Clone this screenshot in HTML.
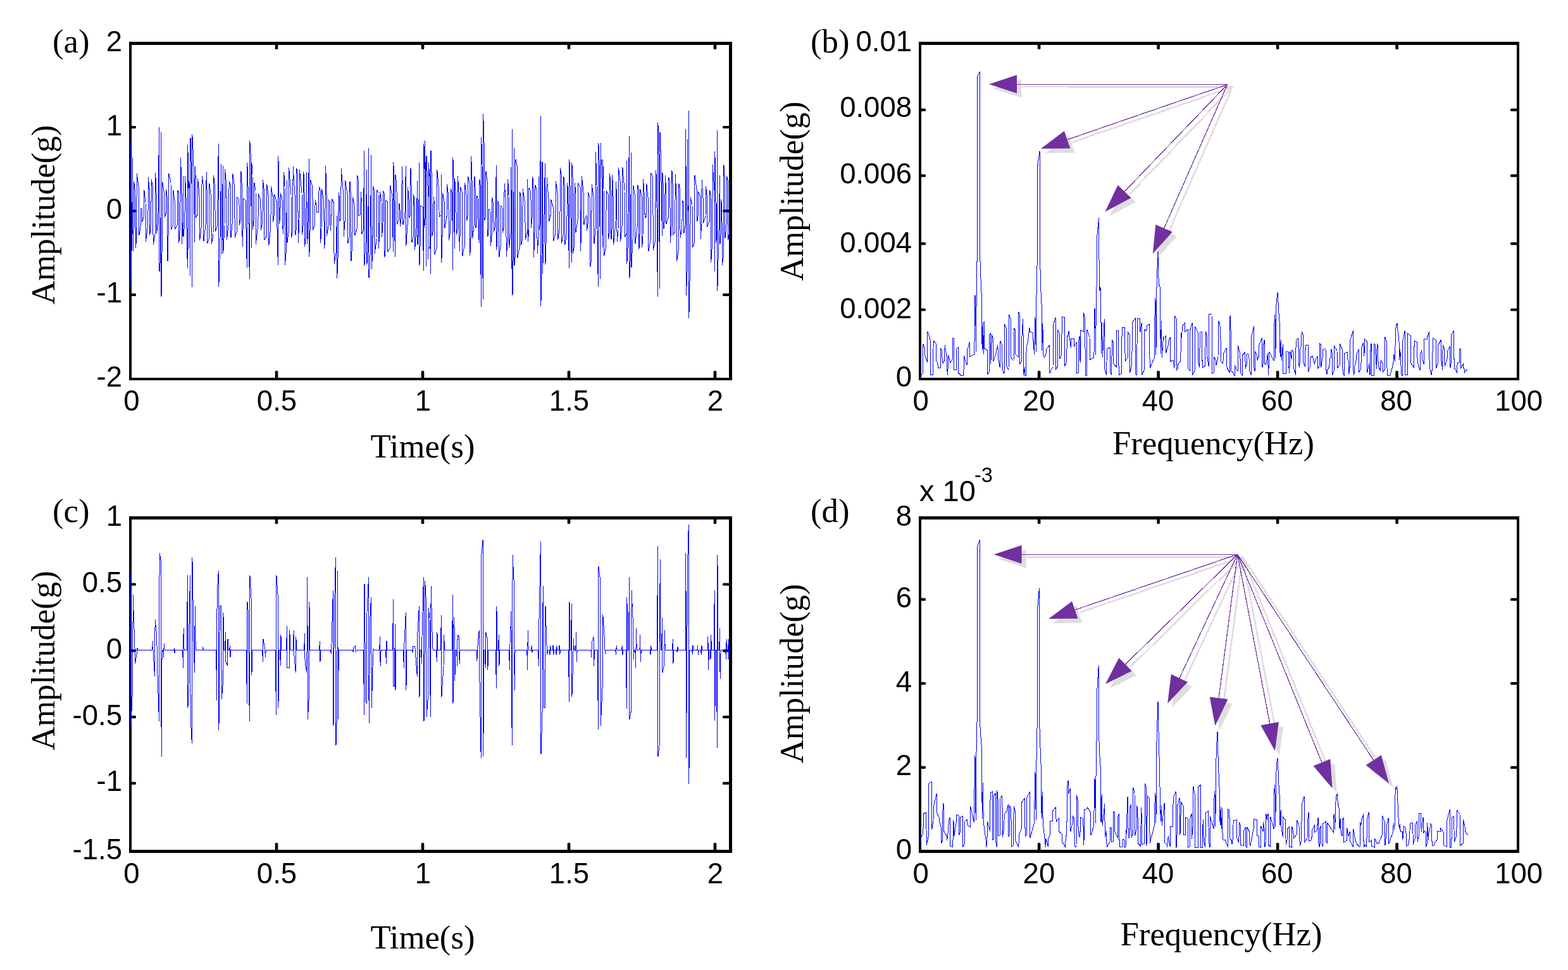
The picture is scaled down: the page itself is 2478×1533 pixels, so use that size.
<!DOCTYPE html>
<html><head><meta charset="utf-8"><title>Figure</title>
<style>html,body{margin:0;padding:0;background:#fff;}svg{display:block;}</style>
</head><body>
<svg xmlns="http://www.w3.org/2000/svg" width="2478" height="1533" viewBox="0 0 2478 1533">
<defs><pattern id="chk" width="2" height="2" patternUnits="userSpaceOnUse"><rect width="1" height="1" fill="#bdbdbd"/><rect x="1" y="1" width="1" height="1" fill="#bdbdbd"/></pattern></defs>
<rect width="2478" height="1533" fill="#fff"/>
<g fill="#000">
<rect x="204" y="66" width="4" height="535"/><rect x="1152" y="66" width="5" height="535"/><rect x="204" y="66" width="953" height="5"/><rect x="204" y="597" width="953" height="4"/>
<rect x="1452" y="66" width="4" height="535"/><rect x="2397" y="66" width="4" height="535"/><rect x="1452" y="66" width="949" height="5"/><rect x="1452" y="597" width="949" height="4"/>
<rect x="204" y="816" width="4" height="532"/><rect x="1152" y="816" width="5" height="532"/><rect x="204" y="816" width="953" height="5"/><rect x="204" y="1343" width="953" height="5"/>
<rect x="1452" y="816" width="4" height="532"/><rect x="2397" y="816" width="4" height="532"/><rect x="1452" y="816" width="949" height="5"/><rect x="1452" y="1343" width="949" height="5"/>
<rect x="434.70" y="586" width="4.6" height="12" rx="1.5"/><rect x="434.70" y="70" width="4.6" height="8" rx="1.5"/><rect x="665.70" y="586" width="4.6" height="12" rx="1.5"/><rect x="665.70" y="70" width="4.6" height="8" rx="1.5"/><rect x="896.70" y="586" width="4.6" height="12" rx="1.5"/><rect x="896.70" y="70" width="4.6" height="8" rx="1.5"/><rect x="1127.70" y="586" width="4.6" height="12" rx="1.5"/><rect x="1127.70" y="70" width="4.6" height="8" rx="1.5"/>
<rect x="434.70" y="1332" width="4.6" height="12" rx="1.5"/><rect x="434.70" y="820" width="4.6" height="8" rx="1.5"/><rect x="665.70" y="1332" width="4.6" height="12" rx="1.5"/><rect x="665.70" y="820" width="4.6" height="8" rx="1.5"/><rect x="896.70" y="1332" width="4.6" height="12" rx="1.5"/><rect x="896.70" y="820" width="4.6" height="8" rx="1.5"/><rect x="1127.70" y="1332" width="4.6" height="12" rx="1.5"/><rect x="1127.70" y="820" width="4.6" height="8" rx="1.5"/>
<rect x="1639.80" y="586" width="4.6" height="12" rx="1.5"/><rect x="1639.80" y="70" width="4.6" height="8" rx="1.5"/><rect x="1828.30" y="586" width="4.6" height="12" rx="1.5"/><rect x="1828.30" y="70" width="4.6" height="8" rx="1.5"/><rect x="2016.80" y="586" width="4.6" height="12" rx="1.5"/><rect x="2016.80" y="70" width="4.6" height="8" rx="1.5"/><rect x="2205.30" y="586" width="4.6" height="12" rx="1.5"/><rect x="2205.30" y="70" width="4.6" height="8" rx="1.5"/>
<rect x="1639.80" y="1332" width="4.6" height="12" rx="1.5"/><rect x="1639.80" y="820" width="4.6" height="8" rx="1.5"/><rect x="1828.30" y="1332" width="4.6" height="12" rx="1.5"/><rect x="1828.30" y="820" width="4.6" height="8" rx="1.5"/><rect x="2016.80" y="1332" width="4.6" height="12" rx="1.5"/><rect x="2016.80" y="820" width="4.6" height="8" rx="1.5"/><rect x="2205.30" y="1332" width="4.6" height="12" rx="1.5"/><rect x="2205.30" y="820" width="4.6" height="8" rx="1.5"/>
<rect x="207" y="198.90" width="8" height="4.2" rx="1.5"/><rect x="1142" y="198.90" width="11" height="4.2" rx="1.5"/><rect x="207" y="331.30" width="8" height="4.2" rx="1.5"/><rect x="1142" y="331.30" width="11" height="4.2" rx="1.5"/><rect x="207" y="463.70" width="8" height="4.2" rx="1.5"/><rect x="1142" y="463.70" width="11" height="4.2" rx="1.5"/>
<rect x="207" y="921.40" width="8" height="4.2" rx="1.5"/><rect x="1142" y="921.40" width="11" height="4.2" rx="1.5"/><rect x="207" y="1026.20" width="8" height="4.2" rx="1.5"/><rect x="1142" y="1026.20" width="11" height="4.2" rx="1.5"/><rect x="207" y="1131.00" width="8" height="4.2" rx="1.5"/><rect x="1142" y="1131.00" width="11" height="4.2" rx="1.5"/><rect x="207" y="1235.80" width="8" height="4.2" rx="1.5"/><rect x="1142" y="1235.80" width="11" height="4.2" rx="1.5"/>
<rect x="1455" y="487.40" width="8" height="4.2" rx="1.5"/><rect x="2387" y="487.40" width="11" height="4.2" rx="1.5"/><rect x="1455" y="383.10" width="8" height="4.2" rx="1.5"/><rect x="2387" y="383.10" width="11" height="4.2" rx="1.5"/><rect x="1455" y="275.60" width="8" height="4.2" rx="1.5"/><rect x="2387" y="275.60" width="11" height="4.2" rx="1.5"/><rect x="1455" y="171.50" width="8" height="4.2" rx="1.5"/><rect x="2387" y="171.50" width="11" height="4.2" rx="1.5"/>
<rect x="1455" y="1210.70" width="8" height="4.2" rx="1.5"/><rect x="2387" y="1210.70" width="11" height="4.2" rx="1.5"/><rect x="1455" y="1077.95" width="8" height="4.2" rx="1.5"/><rect x="2387" y="1077.95" width="11" height="4.2" rx="1.5"/><rect x="1455" y="945.20" width="8" height="4.2" rx="1.5"/><rect x="2387" y="945.20" width="11" height="4.2" rx="1.5"/>
</g>
<polyline fill="none" stroke="#0000ff" stroke-width="1" shape-rendering="crispEdges" points="206.3,222.1 206.8,450.3 208.6,370.1 209.6,249.3 210.1,397.0 211.2,356.6 211.7,286.8 213.7,305.1 214.2,391.9 215.7,378.6 216.2,274.4 219.4,296.3 219.8,372.3 222.3,356.4 222.8,329.4 224.6,330.3 225.0,350.5 227.4,341.4 227.8,299.6 230.0,320.3 230.5,381.6 233.9,354.1 234.3,280.3 236.4,302.5 236.8,371.7 238.8,345.3 239.3,283.5 241.6,297.7 242.1,387.4 245.3,368.6 245.7,273.0 247.2,309.0 247.6,368.6 249.9,346.6 251.5,201.0 252.0,429.2 253.8,405.1 254.5,209.1 255.0,468.8 256.3,380.3 256.7,287.5 259.7,306.0 260.1,343.4 262.1,337.9 262.5,298.7 264.6,313.9 265.0,413.1 266.3,360.5 266.8,273.8 270.0,289.0 270.5,363.1 273.3,356.2 273.8,300.2 276.5,320.6 277.0,362.2 280.3,355.2 280.8,301.0 282.4,304.3 282.8,384.4 284.9,350.6 285.3,248.9 286.9,282.8 287.4,385.9 289.1,350.4 289.5,278.1 290.0,373.9 291.9,352.1 292.4,277.6 293.9,306.1 296.3,423.5 296.8,229.2 298.0,297.7 298.0,394.2 298.5,286.2 300.8,302.7 300.5,436.0 301.0,217.7 303.0,290.4 303.3,453.5 303.8,212.5 305.9,253.7 307.6,383.3 308.1,262.6 309.5,284.2 309.9,343.2 312.1,339.3 312.5,281.9 315.2,310.6 315.6,380.3 318.6,355.7 319.1,278.2 321.6,294.5 322.0,381.0 325.6,350.4 326.1,272.3 327.3,309.4 327.8,384.5 330.5,376.3 331.0,289.6 333.7,311.3 334.2,385.5 337.0,372.3 337.5,277.0 339.8,297.3 340.2,366.0 343.4,357.0 345.3,227.4 345.8,453.1 348.0,375.8 349.6,258.9 350.1,401.6 351.2,375.0 352.3,262.4 352.8,399.6 355.0,357.8 355.5,266.8 357.9,293.5 358.4,378.8 361.6,351.7 362.1,286.6 364.4,292.0 364.9,376.3 367.4,349.4 367.8,274.0 370.7,296.3 371.2,375.5 374.5,365.4 374.9,312.1 377.9,314.6 378.4,355.5 380.4,346.7 380.9,269.9 382.6,299.6 383.1,389.5 384.4,351.7 384.8,314.2 388.1,316.9 390.3,422.9 390.8,256.7 392.3,304.5 394.3,441.3 394.8,221.8 396.7,254.8 397.3,391.6 397.8,256.9 399.0,275.9 399.4,362.9 401.5,345.5 402.0,288.6 404.0,301.4 404.4,386.0 407.9,354.4 408.4,306.0 411.9,317.2 412.3,363.9 414.9,349.9 415.4,284.4 417.5,301.6 418.0,379.2 421.4,372.9 421.8,291.4 424.3,310.8 424.8,387.9 427.9,357.8 428.3,293.7 431.3,311.1 431.7,350.6 433.3,338.7 433.8,307.0 437.1,318.9 439.3,419.0 439.8,247.4 440.8,281.9 441.3,354.0 442.8,344.2 443.3,304.8 446.6,318.5 447.1,370.2 448.3,352.9 448.7,271.9 450.0,294.5 450.5,418.9 452.6,392.7 453.4,285.3 453.9,383.5 456.1,367.1 456.6,265.2 460.0,307.7 460.5,376.1 462.7,363.9 463.1,263.5 466.1,309.5 466.6,372.1 468.4,361.8 468.9,265.8 470.8,279.5 471.2,384.1 473.0,349.2 473.5,267.9 477.0,305.4 477.5,371.4 479.4,353.5 479.9,271.4 481.1,306.5 481.6,389.7 483.4,373.2 484.8,271.7 485.3,386.0 486.8,368.0 488.3,251.0 488.8,406.1 490.1,361.8 490.5,283.7 493.9,295.2 494.3,363.7 497.7,355.2 498.1,315.8 500.2,324.5 500.7,335.8 503.6,335.5 504.1,295.1 506.2,300.6 506.6,384.0 508.0,362.3 508.5,297.6 511.8,319.4 512.3,392.7 513.8,380.8 514.3,261.7 515.9,289.3 516.4,372.5 519.1,357.1 519.5,316.1 521.6,319.0 522.1,364.5 523.9,347.5 524.4,314.2 527.6,320.8 528.1,416.7 531.6,397.0 532.2,341.2 532.7,439.9 534.7,389.2 535.2,303.6 536.4,312.3 536.9,349.5 538.7,346.1 539.2,266.4 542.7,306.9 543.2,373.7 545.2,348.3 545.7,284.7 549.1,308.3 549.6,385.1 552.6,373.9 553.0,287.1 554.5,311.6 554.9,413.4 556.9,385.0 557.4,310.9 560.5,326.5 561.0,372.0 564.3,359.7 564.7,277.1 566.5,285.4 566.9,340.5 569.8,339.0 570.2,303.2 571.5,319.1 572.0,369.5 574.6,361.3 575.4,238.4 575.9,420.2 578.3,378.9 579.4,267.8 579.9,418.1 581.7,388.1 582.5,233.9 583.0,439.3 584.9,414.0 586.7,244.8 587.2,426.3 588.9,398.9 589.4,294.5 591.6,301.2 592.1,401.4 595.0,379.1 595.5,300.6 598.0,304.7 598.4,392.8 599.9,367.2 600.4,303.1 603.0,319.4 603.5,374.7 605.0,354.5 605.4,301.4 607.3,306.0 607.7,407.4 609.1,395.0 609.5,316.9 612.5,318.7 613.0,398.1 616.3,391.1 616.8,293.1 620.0,311.7 621.4,398.1 621.9,255.7 622.9,309.4 624.4,406.3 624.9,276.5 626.9,289.1 627.4,354.5 630.1,349.0 630.6,321.2 631.9,324.2 632.4,357.9 634.7,340.9 635.2,262.8 636.6,301.2 637.0,355.1 639.9,342.1 641.3,261.8 641.8,389.2 644.1,353.3 644.6,296.5 646.3,318.7 646.8,344.4 648.5,339.9 649.0,265.9 650.6,309.3 651.0,382.6 653.4,373.9 653.8,307.5 655.1,324.6 655.6,395.4 658.4,355.1 659.4,285.8 659.9,387.4 661.7,363.5 662.4,256.8 662.9,419.8 664.2,383.8 664.6,324.8 668.2,327.8 669.4,428.0 669.9,227.5 671.1,269.7 671.0,359.6 671.5,221.6 672.7,299.4 673.5,421.2 674.0,246.3 676.1,294.7 676.7,410.4 677.2,257.5 679.0,278.7 679.0,392.6 679.5,274.1 680.9,294.8 680.5,433.1 681.0,237.9 682.2,279.0 682.6,374.4 684.7,363.2 685.1,311.2 686.6,323.0 687.0,402.3 690.3,390.2 690.8,268.3 693.7,301.9 694.1,342.4 697.1,339.9 697.3,275.6 697.8,415.3 699.3,362.5 699.7,305.2 702.4,320.3 702.9,360.2 706.1,342.0 706.6,291.2 708.9,311.9 709.3,380.2 711.9,364.4 712.4,297.8 714.8,306.8 715.4,426.8 715.9,249.1 717.5,297.0 718.2,392.7 718.7,281.9 720.8,312.2 721.3,370.9 723.1,362.9 723.5,278.3 725.6,314.3 726.1,396.9 727.4,363.9 727.8,295.8 730.3,303.9 730.8,404.8 734.2,386.8 734.6,288.8 737.2,309.5 737.7,349.1 739.3,340.4 739.7,279.1 742.4,290.3 742.8,403.8 744.2,372.2 744.7,247.1 746.1,287.3 746.6,377.0 749.6,352.6 750.0,278.6 751.4,302.2 751.9,360.0 753.2,354.2 753.7,309.0 755.0,313.2 757.2,384.3 757.7,282.6 759.5,295.1 760.2,484.6 760.7,217.4 762.0,260.2 763.2,473.2 763.7,180.3 765.6,245.3 766.0,348.3 767.4,342.1 767.9,270.6 770.5,289.3 770.9,373.8 772.3,360.0 772.7,331.0 775.0,332.0 775.5,388.5 777.2,370.1 777.7,312.2 779.7,323.0 780.2,366.8 782.8,357.2 784.3,260.9 784.8,395.2 786.2,362.1 786.6,316.7 788.6,327.4 789.0,405.8 791.5,385.0 791.9,325.5 794.0,326.6 794.4,367.7 796.7,356.3 797.1,289.8 799.7,320.2 800.2,406.4 802.3,378.8 802.7,283.0 804.0,309.3 804.5,391.5 807.4,365.6 807.9,263.8 808.4,424.5 810.0,366.0 809.5,204.3 810.0,466.6 811.4,391.3 812.5,234.4 813.0,419.7 814.6,399.9 815.0,251.8 817.5,264.0 817.9,407.6 821.3,389.4 821.7,303.3 823.3,311.2 823.8,387.2 825.7,377.8 826.2,298.3 829.8,321.9 830.2,379.2 833.8,365.5 833.6,283.5 834.1,381.5 835.4,370.5 835.9,296.9 838.9,302.7 839.4,359.5 841.4,341.9 841.8,279.0 843.1,299.2 843.6,406.7 845.1,364.5 845.5,291.6 848.7,302.0 849.1,400.6 851.6,367.4 851.4,278.6 851.9,363.7 853.5,352.3 854.4,183.1 854.9,483.8 856.0,405.2 857.0,256.5 857.5,433.0 859.5,369.4 861.4,258.3 861.9,418.1 863.6,368.5 864.1,280.0 867.2,316.4 867.7,350.2 870.3,339.3 870.7,315.1 874.2,327.7 874.6,381.0 877.8,369.3 878.3,286.2 881.3,307.3 881.7,378.9 884.9,356.7 885.4,265.2 887.1,275.7 887.6,384.5 890.4,369.7 890.9,278.7 892.6,298.5 893.0,386.5 895.9,363.9 896.3,288.6 897.7,299.3 899.4,424.3 899.9,251.6 901.1,295.6 903.3,415.2 903.8,257.5 905.1,281.4 905.5,400.5 907.6,387.7 908.1,288.9 909.5,300.0 909.9,367.5 913.2,346.1 913.6,289.3 917.2,296.4 917.6,397.1 918.9,354.7 919.3,277.7 922.5,308.9 923.0,354.8 924.9,345.0 925.4,343.4 927.0,340.6 927.5,365.0 929.3,351.7 929.7,303.6 932.2,313.1 932.6,422.2 934.7,411.3 935.2,291.5 938.6,314.1 939.0,385.4 941.1,360.1 941.5,240.0 943.0,293.3 945.3,453.1 945.8,225.6 947.3,259.2 948.6,441.0 949.1,225.6 951.2,286.8 952.2,391.3 952.7,252.0 954.0,297.8 954.5,405.3 957.7,389.2 958.2,301.1 961.1,307.0 961.6,377.9 963.3,367.7 963.8,274.2 965.6,314.5 966.0,378.1 967.2,360.8 967.7,276.5 969.2,314.4 969.7,386.6 973.0,351.5 973.4,287.2 974.7,312.3 975.1,382.4 977.0,365.8 977.5,264.7 980.2,287.4 980.7,381.7 983.3,354.2 983.8,263.6 987.0,300.8 987.5,375.3 990.5,367.4 990.3,254.4 990.8,417.3 992.5,381.9 994.4,215.5 994.9,439.9 996.3,406.3 997.5,241.0 998.0,422.7 1000.3,371.4 1000.8,293.2 1003.6,309.5 1004.0,385.1 1007.5,354.5 1007.9,292.0 1009.5,302.0 1009.9,394.3 1011.3,363.5 1011.8,299.4 1014.1,310.1 1014.5,391.1 1016.0,375.4 1016.5,282.9 1018.7,313.5 1019.1,344.6 1021.3,342.1 1021.8,289.6 1024.5,316.5 1025.0,397.2 1028.2,377.3 1028.7,273.3 1031.8,279.4 1032.2,395.9 1035.8,379.9 1036.2,268.7 1037.5,278.2 1039.4,469.1 1039.9,193.2 1041.1,246.9 1042.5,455.7 1043.0,208.6 1044.4,249.6 1046.4,373.1 1046.9,272.5 1048.5,296.1 1049.0,361.5 1050.8,342.0 1051.2,276.7 1052.6,297.7 1053.0,353.5 1056.4,342.3 1056.8,279.8 1058.8,288.9 1059.3,384.3 1061.4,351.8 1061.9,269.4 1063.3,295.0 1063.8,370.5 1066.8,366.3 1067.2,274.6 1069.2,313.6 1069.6,412.8 1072.5,392.8 1072.9,290.5 1074.6,300.9 1075.1,376.2 1077.9,361.0 1078.3,316.3 1080.4,320.3 1080.8,369.1 1083.7,351.4 1083.9,204.5 1084.4,466.8 1086.4,419.9 1086.0,219.6 1086.5,332.1 1088.0,332.4 1088.3,175.1 1088.8,503.2 1090.8,405.6 1091.2,311.2 1094.0,322.9 1094.5,391.1 1097.6,382.3 1098.0,277.4 1101.3,300.6 1101.8,350.4 1103.5,338.8 1104.0,303.5 1106.7,311.0 1107.2,378.2 1108.7,354.6 1109.1,283.8 1111.1,314.7 1111.5,353.0 1115.0,341.9 1115.4,293.7 1117.2,309.7 1117.7,359.0 1121.1,349.3 1121.6,299.7 1123.2,308.6 1123.7,415.1 1125.8,381.5 1126.2,259.8 1129.1,302.6 1129.2,429.3 1129.7,238.8 1130.8,275.2 1131.3,383.5 1132.9,375.2 1133.3,205.7 1133.8,460.2 1135.7,382.0 1137.5,276.7 1138.0,385.6 1139.2,369.7 1139.6,315.0 1140.9,327.0 1141.3,418.8 1143.5,405.6 1143.9,260.3 1145.5,287.1 1146.0,376.1 1148.3,352.4 1148.7,278.5 1150.4,287.0 1150.9,379.1 1153.6,359.7"/>
<polyline fill="none" stroke="#0000ff" stroke-width="1" shape-rendering="crispEdges" points="206.3,1027.5 206.3,902.8 206.9,1149.0 209.6,1087.6 210.2,940.5 213.0,1023.5 213.6,1048.6 216.3,1032.0 216.9,1024.0 217.9,1027.5 240.7,1027.5 241.5,1013.0 242.1,1030.0 244.5,1069.0 245.1,979.0 247.8,1006.0 248.4,1048.6 251.5,1139.6 252.1,874.0 254.5,887.8 255.1,1195.7 256.1,1027.5 257.8,1027.5 258.6,1038.6 259.2,1017.0 260.2,1027.5 274.6,1027.5 275.4,1024.0 276.0,1032.0 277.0,1027.5 288.7,1027.5 289.5,1055.7 290.1,992.8 291.1,1027.5 295.5,1027.5 296.3,909.0 296.9,1119.0 298.0,1084.0 298.6,1007.0 300.5,909.0 301.1,1132.9 303.3,1174.8 303.9,881.0 305.6,983.0 306.2,1027.0 307.6,1062.5 308.2,958.0 309.2,1027.5 319.9,1027.5 320.7,1022.0 321.3,1028.0 322.3,1027.5 341.7,1027.5 342.5,1106.5 343.1,940.0 345.3,902.0 345.9,1153.7 346.6,1091.0 347.2,957.0 349.6,958.0 350.2,1104.7 352.3,1080.8 352.9,968.0 353.9,1027.5 355.6,1027.5 356.4,999.0 357.0,1045.6 359.4,1052.4 360.0,1010.0 361.0,1027.5 362.6,1027.5 363.4,1020.0 364.0,1038.6 365.0,1027.5 389.5,1027.5 390.3,1111.5 390.9,951.0 392.3,967.0 392.9,1021.0 394.3,1139.6 394.9,909.0 397.3,951.0 397.9,1066.7 398.9,1027.5 414.6,1027.5 415.4,1045.6 416.0,1010.0 418.7,1025.0 419.3,1038.6 420.3,1027.5 435.5,1027.5 436.3,1129.6 436.9,909.0 439.3,944.0 439.9,1118.5 440.9,1027.5 442.5,1027.5 443.3,1052.4 443.9,1003.0 444.9,1027.5 452.6,1027.5 453.4,989.0 454.0,1055.7 457.2,1055.7 457.8,996.0 458.8,1027.5 463.4,1027.5 464.2,996.0 464.8,1034.3 467.2,1062.5 467.8,1006.0 468.8,1027.5 480.7,1027.5 481.5,1001.0 482.1,1048.6 484.8,1062.5 485.4,976.0 485.8,912.0 486.4,1136.6 488.3,1101.4 488.9,951.0 489.9,1027.5 504.6,1027.5 505.4,1013.0 506.0,1045.6 507.0,1027.5 522.6,1027.5 523.4,1033.7 524.0,1017.0 526.4,933.0 527.0,1146.8 528.4,978.0 529.0,938.0 530.4,881.0 531.0,1177.5 532.2,1134.0 532.8,1067.6 533.7,902.0 534.3,1136.7 535.3,1027.5 557.5,1027.5 558.3,1031.0 558.9,1023.0 561.6,1020.6 562.2,1031.0 563.2,1027.5 574.6,1027.5 575.4,1129.7 576.0,923.0 577.4,1051.0 578.0,1109.0 579.4,1111.6 580.0,968.0 582.5,912.0 583.1,1142.5 584.5,1026.0 585.1,966.0 586.7,944.0 587.3,1118.6 589.5,1035.0 590.1,1025.0 591.1,1027.5 599.7,1027.5 600.5,1006.0 601.1,1052.5 602.1,1027.5 609.6,1027.5 610.4,1048.8 611.0,1013.0 612.0,1027.5 620.6,1027.5 621.4,947.0 622.0,1084.0 623.2,1084.0 623.8,1046.0 624.4,986.0 625.0,1090.7 626.0,1027.5 637.5,1027.5 638.3,1056.0 638.9,1017.0 641.3,968.0 641.9,1090.7 642.9,1027.5 651.2,1027.5 652.0,1031.0 652.6,1021.0 655.8,1021.0 656.4,1031.0 659.4,1069.4 660.0,999.0 662.4,958.0 663.0,1101.5 664.0,1027.5 665.6,1027.5 666.4,1048.8 667.0,1006.0 669.4,912.0 670.0,1139.8 671.0,1036.0 671.6,918.0 673.5,951.0 674.1,1133.0 676.7,1097.8 677.3,961.0 679.0,977.0 679.6,1071.0 680.5,1133.0 681.1,926.0 683.5,1017.0 684.1,1026.0 685.1,1027.5 689.5,1027.5 690.3,1045.7 690.9,999.0 691.9,1027.5 696.5,1027.5 697.3,972.0 697.9,1101.5 701.0,1052.5 701.6,1003.5 702.6,1027.5 714.6,1027.5 715.4,940.0 716.0,1111.6 716.7,1002.0 717.3,974.6 718.2,996.0 718.8,1076.4 719.8,1027.5 721.7,1027.5 722.5,1052.5 723.1,1003.5 725.5,1006.0 726.1,1048.8 727.1,1027.5 753.1,1027.5 753.9,1045.0 754.5,1025.0 757.2,996.0 757.8,1066.4 760.2,1198.3 760.8,877.0 763.2,852.7 763.8,1195.0 764.8,1027.5 766.4,1027.5 767.2,1056.0 767.8,999.0 770.2,1010.0 770.8,1059.3 771.8,1027.5 783.5,1027.5 784.3,1087.7 784.9,957.8 785.9,1027.5 787.5,1027.5 788.3,1003.5 788.9,1052.5 789.9,1027.5 804.6,1027.5 805.4,1059.0 806.0,1017.0 807.9,966.0 808.5,1121.7 809.5,1177.5 810.1,877.0 812.5,926.0 813.1,1090.7 814.1,1027.5 832.8,1027.5 833.6,1059.4 834.2,995.8 835.2,1027.5 839.5,1027.5 840.3,1020.0 840.9,1031.0 841.9,1027.5 850.6,1027.5 851.4,1052.8 852.0,978.3 854.4,856.0 855.0,1191.7 857.0,1128.0 857.6,970.0 858.6,926.0 859.2,1118.6 861.4,1118.6 862.0,958.0 864.0,1020.0 864.6,1035.0 865.6,1027.5 868.2,1027.5 869.0,1035.0 869.6,1020.0 870.6,1027.5 873.2,1027.5 874.0,1020.0 874.6,1035.0 875.6,1027.5 878.2,1027.5 879.0,1035.0 879.6,1020.0 880.6,1027.5 883.2,1027.5 884.0,1020.0 884.6,1035.0 885.6,1027.5 898.6,1027.5 899.4,1108.9 900.0,951.0 901.0,1027.5 902.5,1027.5 903.3,954.0 903.9,1100.5 905.8,1039.4 906.4,1009.0 907.4,1027.5 909.8,1027.5 910.6,999.0 911.2,1045.6 912.2,1027.5 933.9,1027.5 934.7,1039.4 935.3,1015.8 938.0,1006.0 938.6,1052.8 939.6,1027.5 944.5,1027.5 945.3,1153.3 945.9,895.0 948.6,916.4 949.2,1147.2 952.2,1083.9 952.8,971.4 955.6,1013.0 956.2,1033.9 957.2,1027.5 972.8,1027.5 973.6,1035.0 974.2,1020.0 975.2,1027.5 982.5,1027.5 983.3,1020.0 983.9,1035.0 984.9,1027.5 989.5,1027.5 990.3,1120.0 990.9,944.0 991.9,1027.5 993.6,1027.5 994.4,912.0 995.0,1136.7 997.5,1122.8 998.1,933.0 1000.6,989.4 1001.2,1042.2 1002.2,1027.5 1003.9,1027.5 1004.7,1055.6 1005.3,993.0 1006.3,1027.5 1010.9,1027.5 1011.7,1003.3 1012.3,1045.6 1013.3,1027.5 1027.2,1027.5 1028.0,1035.0 1028.6,1020.0 1029.6,1027.5 1038.6,1027.5 1039.4,863.0 1040.0,1195.6 1042.5,1175.0 1043.1,884.4 1044.1,1027.5 1045.6,1027.5 1046.4,975.6 1047.0,1063.0 1049.7,1049.2 1050.3,995.8 1051.3,1027.5 1062.5,1027.5 1063.3,1010.3 1063.9,1049.2 1064.9,1027.5 1069.5,1027.5 1070.3,1031.0 1070.9,1022.0 1071.9,1027.5 1083.1,1027.5 1083.9,873.6 1084.5,1198.3 1086.0,990.0 1086.6,892.0 1088.3,828.9 1088.9,1239.4 1089.9,1027.5 1093.6,1027.5 1094.4,1035.0 1095.0,1020.0 1096.0,1027.5 1101.9,1027.5 1102.7,1020.0 1103.3,1035.0 1104.3,1027.5 1107.5,1027.5 1108.3,1035.0 1108.9,1020.0 1109.9,1027.5 1118.1,1027.5 1118.9,1006.0 1119.5,1059.4 1120.5,1027.5 1122.2,1027.5 1123.0,1042.0 1123.6,1003.0 1124.6,1027.5 1128.4,1027.5 1129.2,933.3 1129.8,1139.4 1130.8,1027.5 1132.5,1027.5 1133.3,1181.7 1133.9,877.0 1134.9,1027.5 1136.7,1027.5 1137.5,993.0 1138.1,1073.3 1139.1,1027.5 1146.7,1027.5 1147.5,1042.0 1148.1,1010.3 1149.1,1027.5 1150.6,1027.5 1151.4,1010.3 1152.0,1042.0 1153.5,1027.5 1154.0,1027.5"/>
<polyline fill="none" stroke="#0000ff" stroke-width="1" shape-rendering="crispEdges" points="1455.0,590.0 1455.5,593.0 1458.6,589.2 1459.0,544.5 1461.6,551.5 1462.0,562.0 1465.6,573.1 1466.0,523.6 1470.6,539.2 1471.0,592.8 1474.7,593.0 1475.1,538.3 1479.6,543.6 1480.0,570.9 1481.9,573.2 1482.3,581.9 1486.2,581.7 1486.6,550.3 1488.4,553.8 1488.8,565.0 1490.4,575.0 1490.8,572.1 1492.7,569.7 1493.1,545.5 1496.1,563.4 1496.5,582.8 1497.9,593.0 1498.3,561.4 1500.9,568.9 1501.3,573.7 1505.2,568.0 1505.6,534.2 1507.5,534.9 1507.9,584.4 1511.5,584.6 1511.9,551.1 1514.4,548.9 1514.8,589.5 1518.3,593.0 1518.7,593.0 1522.9,593.0 1523.3,561.9 1525.9,571.4 1526.3,573.2 1528.6,576.1 1529.0,552.2 1532.5,540.2 1532.9,563.6 1539.8,560.0 1540.8,466.0 1541.6,471.0 1542.4,556.0 1543.6,417.0 1544.3,411.0 1544.8,120.5 1548.4,113.0 1548.9,411.0 1549.6,421.0 1550.4,459.0 1551.3,465.0 1552.1,554.0 1553.2,509.5 1554.2,560.0 1555.6,508.0 1556.0,550.6 1560.2,553.4 1560.6,591.3 1563.6,587.4 1564.0,529.1 1565.2,526.4 1565.6,574.9 1566.8,558.5 1567.2,527.8 1569.6,536.1 1570.0,571.3 1574.1,557.3 1574.5,554.9 1576.9,545.0 1577.3,564.9 1580.3,581.2 1580.7,538.7 1583.7,545.8 1584.1,583.0 1587.0,591.3 1587.4,511.7 1590.3,520.0 1590.7,578.7 1594.0,584.4 1594.4,496.8 1597.6,505.6 1598.0,565.2 1602.0,570.2 1602.4,519.0 1604.4,521.1 1604.8,559.6 1609.3,564.3 1609.7,492.6 1611.5,497.8 1611.9,574.7 1614.7,571.2 1615.1,521.4 1616.9,504.5 1617.3,593.0 1619.6,579.9 1620.0,593.0 1621.7,593.0 1622.1,547.2 1624.7,540.1 1625.1,533.2 1627.1,517.7 1627.5,524.4 1631.9,525.6 1634.6,560.0 1635.6,501.0 1636.4,506.0 1637.2,556.0 1638.4,425.0 1639.1,419.0 1639.6,263.5 1643.0,239.0 1643.5,419.0 1644.2,429.0 1645.0,462.0 1645.9,468.0 1646.7,554.0 1647.8,511.0 1648.8,560.0 1650.3,565.4 1653.0,559.7 1653.4,552.0 1658.1,546.1 1658.5,589.9 1660.5,588.9 1660.9,583.9 1664.0,581.3 1664.4,513.6 1668.2,501.7 1668.6,583.7 1671.2,579.2 1671.6,520.7 1674.4,527.9 1674.8,566.9 1677.8,560.5 1678.2,500.5 1682.4,501.7 1682.8,578.7 1685.8,570.9 1686.2,534.7 1689.1,523.4 1689.5,528.7 1692.5,550.0 1692.9,535.6 1697.1,535.0 1697.5,548.3 1701.2,540.7 1701.6,589.9 1704.1,588.5 1704.5,540.1 1706.2,530.6 1706.6,566.9 1707.6,573.1 1708.0,522.1 1712.3,523.9 1712.7,494.5 1714.8,504.9 1715.2,593.0 1717.6,593.0 1718.0,521.0 1722.0,532.9 1722.4,568.6 1728.9,565.0 1729.9,487.0 1730.7,492.0 1731.5,561.0 1732.7,456.0 1733.4,450.0 1733.9,371.5 1736.7,344.0 1737.2,450.0 1737.9,460.0 1738.7,453.0 1739.6,459.0 1740.4,559.0 1741.5,509.0 1742.5,565.0 1745.3,504.0 1745.7,582.9 1748.8,593.0 1749.2,551.3 1754.1,549.4 1754.5,587.6 1756.8,592.4 1757.2,536.9 1759.2,540.9 1759.6,574.2 1764.2,580.2 1764.6,522.6 1767.7,523.0 1768.1,593.0 1772.7,590.0 1773.1,517.7 1777.7,517.6 1778.1,570.3 1782.4,565.8 1782.8,525.4 1785.4,529.8 1785.8,589.4 1788.9,574.4 1789.3,509.8 1794.1,503.3 1794.5,591.7 1796.8,593.0 1797.2,503.0 1801.5,503.4 1801.9,524.6 1804.1,510.1 1804.5,593.0 1808.4,584.3 1808.8,520.9 1811.9,523.0 1812.3,514.4 1816.7,512.5 1817.1,582.1 1824.3,565.0 1825.3,471.0 1826.1,476.0 1826.9,561.0 1828.1,446.0 1828.8,440.0 1829.3,400.0 1830.5,396.0 1831.0,440.0 1831.7,450.0 1832.5,450.0 1833.4,456.0 1834.2,559.0 1835.3,507.5 1836.3,565.0 1838.6,531.0 1839.0,535.6 1842.4,530.9 1842.8,557.9 1846.0,546.1 1846.4,541.0 1849.2,532.8 1849.6,571.4 1854.4,569.5 1854.8,576.3 1856.0,582.0 1856.4,499.1 1859.3,504.5 1859.7,584.7 1861.1,582.7 1861.5,576.1 1865.9,570.2 1866.3,525.7 1867.8,533.7 1868.2,516.0 1872.4,510.3 1872.8,524.3 1877.1,520.7 1877.5,582.4 1880.1,585.3 1880.5,522.2 1884.2,510.3 1884.6,593.0 1888.4,584.5 1888.8,517.1 1893.2,525.1 1893.6,572.6 1895.8,580.7 1896.2,525.1 1899.7,524.5 1900.1,581.9 1904.8,577.8 1905.2,522.9 1907.3,531.4 1907.7,563.6 1910.1,578.5 1910.5,496.4 1915.0,496.9 1915.4,590.3 1918.4,588.8 1918.8,563.6 1921.6,570.3 1922.0,577.3 1925.0,565.0 1925.4,507.2 1927.9,512.2 1928.3,525.1 1929.3,542.9 1929.7,572.0 1932.9,574.6 1933.3,559.3 1938.2,550.0 1938.6,579.5 1943.3,589.3 1943.7,501.0 1944.9,498.4 1945.3,586.3 1949.6,589.6 1950.0,593.0 1951.4,593.0 1951.8,578.5 1953.4,580.9 1953.8,583.7 1956.1,585.9 1956.5,546.4 1959.9,559.4 1960.3,588.6 1963.2,593.0 1963.6,560.9 1967.8,556.7 1968.2,582.9 1970.2,575.7 1970.6,559.4 1973.9,560.4 1974.3,585.0 1977.5,593.0 1977.9,532.8 1981.6,514.7 1982.0,581.2 1983.3,586.8 1983.7,555.2 1986.7,562.5 1987.1,569.4 1989.5,562.0 1989.9,545.0 1994.3,534.2 1994.7,581.4 1996.2,574.5 1996.6,545.7 1998.2,537.1 1998.6,574.1 2000.4,576.3 2000.8,576.1 2003.8,557.7 2004.2,593.0 2005.6,573.9 2006.0,556.0 2013.2,570.0 2014.2,497.0 2015.0,502.0 2015.8,566.0 2017.0,482.0 2017.7,476.0 2018.2,466.0 2019.4,462.0 2019.9,476.0 2020.6,486.0 2021.4,504.0 2022.3,510.0 2023.1,564.0 2024.2,537.0 2025.2,570.0 2027.4,544.3 2027.8,590.1 2032.3,590.8 2032.7,555.5 2036.7,556.4 2037.1,589.9 2038.3,576.1 2038.7,555.0 2041.6,568.2 2042.0,552.9 2044.0,555.4 2044.4,580.2 2047.7,593.0 2048.1,538.3 2051.9,534.2 2052.3,575.7 2053.9,580.7 2054.3,555.7 2056.7,544.4 2057.1,524.7 2059.3,528.7 2059.7,571.9 2062.7,580.3 2063.1,545.9 2067.2,545.6 2067.6,587.8 2070.6,577.7 2071.0,565.0 2074.7,562.4 2075.1,567.4 2077.8,576.2 2078.2,570.6 2082.3,562.6 2082.7,582.0 2085.1,579.1 2085.5,542.8 2087.3,545.0 2087.7,580.8 2090.6,562.3 2091.0,552.4 2095.0,551.4 2095.4,581.9 2097.0,591.7 2097.4,585.4 2100.9,580.1 2101.3,566.5 2103.6,564.9 2104.0,552.1 2105.2,557.6 2105.6,593.0 2108.3,584.9 2108.7,547.1 2113.0,554.1 2113.4,581.4 2117.1,576.8 2117.5,543.1 2121.7,553.7 2122.1,591.6 2124.6,593.0 2125.0,558.3 2129.1,556.7 2129.5,567.3 2131.2,570.0 2131.6,592.2 2133.1,579.7 2133.5,539.0 2138.5,522.1 2138.9,586.4 2139.9,593.0 2140.3,580.0 2142.9,573.0 2143.3,561.5 2147.1,552.0 2147.5,589.1 2150.9,582.1 2151.3,550.7 2154.9,541.1 2155.3,563.2 2156.3,556.3 2156.7,535.8 2160.4,539.8 2160.8,588.5 2163.9,573.9 2164.3,592.4 2165.7,590.7 2166.1,545.5 2167.3,542.7 2167.7,593.0 2171.4,593.0 2171.8,543.3 2173.7,544.3 2174.1,565.8 2175.7,583.0 2176.1,543.0 2177.7,546.7 2178.1,577.5 2181.7,586.9 2182.1,569.1 2185.5,574.8 2185.9,587.5 2188.4,583.8 2188.8,532.4 2191.7,540.9 2192.1,593.0 2197.0,593.0 2201.8,575.0 2202.8,560.0 2203.6,565.0 2204.4,571.0 2205.6,522.0 2206.3,516.0 2206.8,514.0 2208.0,511.0 2208.5,516.0 2209.2,526.0 2210.0,530.0 2210.9,536.0 2211.7,569.0 2212.8,552.5 2213.8,575.0 2215.1,593.0 2216.5,593.0 2216.9,538.5 2220.1,523.0 2220.5,592.5 2224.6,593.0 2225.0,527.1 2229.3,530.9 2229.7,573.7 2234.7,580.9 2235.1,538.6 2239.7,541.1 2240.1,572.4 2244.1,585.4 2244.5,559.7 2246.9,553.5 2247.3,566.3 2250.3,575.9 2250.7,535.5 2255.6,536.7 2256.0,531.6 2258.7,524.3 2259.1,580.6 2262.4,593.0 2262.8,585.9 2263.8,584.6 2264.2,534.1 2269.2,537.2 2269.6,581.7 2272.3,573.8 2272.7,546.0 2277.5,536.7 2277.9,570.1 2279.7,585.2 2280.1,545.3 2282.7,550.8 2283.1,579.2 2287.2,566.6 2287.6,555.2 2291.5,547.2 2291.9,581.2 2293.6,571.6 2294.0,528.7 2297.7,522.3 2298.1,581.0 2302.7,588.9 2303.1,574.0 2306.2,572.4 2306.6,551.8 2308.3,551.2 2308.7,581.6 2312.1,575.7 2312.5,580.7 2314.4,583.5 2314.8,588.6 2318.8,583.0"/>
<polyline fill="none" stroke="#0000ff" stroke-width="1" shape-rendering="crispEdges" points="1455.0,1330.0 1455.5,1323.3 1458.9,1317.4 1459.3,1286.1 1463.8,1283.9 1464.2,1335.5 1467.1,1322.8 1467.5,1238.4 1472.4,1235.9 1472.8,1310.7 1475.0,1296.6 1475.4,1274.7 1480.4,1253.6 1480.8,1284.9 1484.6,1293.0 1485.0,1299.1 1487.5,1308.5 1487.9,1332.5 1489.7,1327.6 1490.1,1268.8 1491.6,1272.0 1492.0,1314.4 1496.1,1321.3 1496.5,1328.4 1498.8,1311.5 1499.2,1297.5 1501.3,1291.6 1501.7,1336.5 1505.9,1339.0 1506.3,1295.6 1507.3,1301.1 1507.7,1321.6 1511.2,1300.1 1511.6,1287.2 1515.5,1289.5 1515.9,1319.5 1517.4,1315.1 1517.8,1291.5 1521.2,1290.1 1521.6,1339.0 1524.6,1332.5 1525.0,1298.1 1528.7,1295.0 1529.1,1304.4 1533.1,1306.9 1533.5,1273.6 1539.5,1300.0 1540.5,1194.0 1541.3,1199.0 1542.1,1296.0 1543.3,1155.0 1544.0,1149.0 1544.5,864.0 1548.5,852.9 1549.0,1149.0 1549.7,1159.0 1550.5,1174.0 1551.4,1180.0 1552.2,1294.0 1553.3,1237.0 1554.3,1300.0 1558.0,1327.4 1558.4,1339.0 1559.9,1331.7 1560.3,1297.8 1564.7,1313.8 1565.1,1253.1 1568.3,1250.9 1568.7,1327.2 1570.3,1326.1 1570.7,1256.6 1573.6,1253.7 1574.0,1332.0 1575.3,1339.0 1575.7,1248.8 1577.3,1266.6 1577.7,1320.9 1580.3,1320.0 1580.7,1261.3 1583.9,1257.4 1584.3,1323.4 1586.8,1307.0 1587.2,1287.1 1591.0,1282.3 1591.4,1279.2 1593.6,1271.0 1594.0,1321.9 1595.4,1319.2 1595.8,1274.1 1597.9,1277.9 1598.3,1339.0 1601.7,1335.2 1602.1,1273.8 1604.6,1281.5 1605.0,1329.3 1609.9,1339.0 1610.3,1319.7 1614.4,1309.0 1614.8,1267.9 1619.7,1261.4 1620.1,1322.0 1622.2,1319.5 1622.6,1260.7 1627.5,1251.2 1627.9,1324.2 1634.6,1300.0 1635.6,1220.0 1636.4,1225.0 1637.2,1296.0 1638.4,1156.0 1639.1,1150.0 1639.6,962.7 1642.4,929.4 1642.9,1150.0 1643.6,1160.0 1644.4,1203.0 1645.3,1209.0 1646.1,1294.0 1647.2,1251.5 1648.2,1300.0 1652.4,1339.0 1652.8,1324.8 1656.3,1338.4 1656.7,1325.1 1659.5,1318.7 1659.9,1297.4 1663.6,1297.8 1664.0,1281.5 1668.7,1275.3 1669.1,1298.5 1673.2,1293.5 1673.6,1314.3 1678.6,1318.5 1679.0,1330.9 1683.8,1339.0 1684.2,1320.8 1685.9,1320.2 1686.3,1246.5 1688.2,1232.7 1688.6,1254.5 1691.5,1246.1 1691.9,1313.9 1695.1,1301.0 1695.5,1290.1 1697.8,1293.8 1698.2,1337.6 1701.0,1339.0 1701.4,1255.9 1703.7,1267.1 1704.1,1318.1 1706.9,1323.2 1707.3,1291.7 1711.9,1293.8 1712.3,1335.7 1713.6,1322.5 1714.0,1279.7 1718.2,1278.0 1718.6,1276.3 1723.6,1284.0 1724.0,1320.2 1728.7,1305.0 1729.7,1230.0 1730.5,1235.0 1731.3,1301.0 1732.5,1175.0 1733.2,1169.0 1733.7,1091.6 1736.3,1051.8 1736.8,1169.0 1737.5,1179.0 1738.3,1206.0 1739.2,1212.0 1740.0,1299.0 1741.1,1255.5 1742.1,1305.0 1745.8,1270.4 1746.2,1322.7 1748.7,1313.6 1749.1,1339.0 1754.0,1330.5 1754.4,1307.2 1756.1,1308.7 1756.5,1330.4 1759.6,1329.3 1760.0,1282.8 1761.6,1284.1 1762.0,1315.3 1766.4,1323.3 1766.8,1290.1 1768.7,1285.8 1769.1,1338.7 1774.0,1338.5 1774.4,1326.1 1777.3,1328.4 1777.7,1339.0 1779.4,1336.4 1779.8,1310.8 1780.8,1317.0 1781.2,1260.9 1782.7,1259.5 1783.1,1323.5 1785.0,1324.2 1785.4,1277.2 1787.7,1271.0 1788.1,1323.5 1790.6,1317.8 1791.0,1244.8 1793.0,1253.8 1793.4,1320.6 1796.1,1311.0 1796.5,1273.0 1797.9,1277.3 1798.3,1332.7 1802.8,1337.6 1803.2,1275.8 1804.6,1291.1 1805.0,1334.4 1808.9,1333.3 1809.3,1238.4 1811.2,1243.8 1811.6,1336.6 1812.8,1329.2 1813.2,1257.7 1816.7,1262.1 1817.1,1332.6 1824.3,1305.0 1825.3,1253.0 1826.1,1258.0 1826.9,1301.0 1828.1,1163.0 1828.8,1157.0 1829.3,1112.0 1830.5,1108.3 1831.0,1157.0 1831.7,1167.0 1832.5,1241.0 1833.4,1247.0 1834.2,1299.0 1835.3,1273.0 1836.3,1305.0 1840.1,1269.4 1840.5,1331.7 1844.1,1335.0 1844.5,1339.0 1846.3,1321.4 1846.7,1324.7 1849.2,1337.5 1849.6,1306.0 1853.7,1306.0 1854.1,1260.8 1858.3,1250.9 1858.7,1339.0 1859.9,1338.4 1860.3,1275.4 1864.0,1260.8 1864.4,1320.2 1865.8,1312.6 1866.2,1266.9 1870.5,1275.2 1870.9,1319.4 1873.4,1319.2 1873.8,1291.8 1877.5,1294.1 1877.9,1339.0 1880.2,1337.8 1880.6,1294.5 1883.0,1286.0 1883.4,1325.9 1885.5,1302.5 1885.9,1242.8 1888.5,1256.9 1888.9,1339.0 1893.5,1339.0 1893.9,1243.3 1897.5,1240.2 1897.9,1339.0 1900.3,1339.0 1900.7,1306.1 1901.7,1294.9 1902.1,1328.9 1904.9,1339.0 1905.3,1285.4 1909.8,1281.1 1910.2,1330.5 1912.1,1339.0 1912.5,1290.5 1918.2,1310.0 1919.2,1250.0 1920.0,1255.0 1920.8,1306.0 1922.0,1198.0 1922.7,1192.0 1923.2,1160.0 1924.4,1156.2 1924.9,1192.0 1925.6,1202.0 1926.4,1240.0 1927.3,1246.0 1928.1,1304.0 1929.2,1275.0 1930.2,1310.0 1931.7,1277.0 1932.1,1326.8 1936.9,1327.6 1937.3,1331.8 1940.3,1337.2 1940.7,1278.6 1942.9,1280.6 1943.3,1323.4 1946.6,1329.5 1947.0,1334.2 1948.7,1322.9 1949.1,1297.1 1954.1,1295.6 1954.5,1323.7 1957.9,1331.5 1958.3,1299.9 1960.2,1303.1 1960.6,1335.5 1965.2,1336.6 1965.6,1312.6 1968.2,1307.4 1968.6,1337.7 1970.4,1339.0 1970.8,1307.0 1974.4,1314.4 1974.8,1332.0 1976.6,1337.2 1977.0,1331.4 1981.2,1309.1 1981.6,1294.5 1986.1,1295.9 1986.5,1320.4 1989.6,1321.6 1990.0,1338.9 1992.3,1339.0 1992.7,1305.0 1996.1,1314.4 1996.5,1299.4 1998.5,1311.7 1998.9,1339.0 2000.5,1328.5 2000.9,1286.1 2002.3,1296.4 2002.7,1289.0 2004.2,1286.2 2004.6,1335.1 2007.6,1338.4 2008.0,1291.4 2013.1,1310.0 2014.1,1240.0 2014.9,1245.0 2015.7,1306.0 2016.9,1220.0 2017.6,1214.0 2018.1,1201.0 2019.3,1198.0 2019.8,1214.0 2020.5,1224.0 2021.3,1251.0 2022.2,1257.0 2023.0,1304.0 2024.1,1280.5 2025.1,1310.0 2027.5,1322.5 2027.9,1291.5 2031.7,1296.3 2032.1,1335.2 2034.6,1324.0 2035.0,1309.5 2037.3,1306.6 2037.7,1338.8 2041.3,1339.0 2041.7,1306.0 2044.5,1319.1 2044.9,1324.4 2049.2,1318.6 2049.6,1295.7 2053.7,1308.3 2054.1,1336.4 2056.8,1328.7 2057.2,1271.6 2061.2,1258.6 2061.6,1330.7 2066.0,1324.7 2066.4,1298.9 2068.1,1283.6 2068.5,1329.1 2072.9,1327.8 2073.3,1312.0 2077.4,1304.4 2077.8,1315.4 2081.8,1312.5 2082.2,1295.9 2083.4,1291.7 2083.8,1332.1 2085.3,1339.0 2085.7,1309.2 2087.5,1305.3 2087.9,1333.9 2090.1,1336.6 2090.5,1302.1 2095.2,1298.5 2095.6,1330.9 2097.6,1332.4 2098.0,1300.8 2107.1,1315.0 2108.1,1286.0 2108.9,1291.0 2109.7,1311.0 2110.9,1268.0 2111.6,1262.0 2112.1,1257.0 2113.3,1254.0 2113.8,1262.0 2114.5,1272.0 2115.3,1272.0 2116.2,1278.0 2117.0,1309.0 2118.1,1293.5 2119.1,1315.0 2121.3,1321.3 2121.7,1295.1 2123.3,1292.9 2123.7,1330.9 2128.4,1328.1 2128.8,1308.1 2130.2,1319.0 2130.6,1322.3 2133.3,1314.4 2133.7,1329.6 2138.4,1339.0 2138.8,1310.4 2140.8,1319.0 2141.2,1326.4 2145.1,1335.7 2145.5,1334.8 2149.0,1339.0 2149.4,1299.1 2150.9,1304.9 2151.3,1297.4 2154.7,1286.6 2155.1,1339.0 2156.7,1337.7 2157.1,1334.1 2159.9,1339.0 2160.3,1294.4 2163.4,1283.4 2163.8,1330.6 2167.3,1328.1 2167.7,1337.3 2172.4,1339.0 2172.8,1325.3 2176.1,1333.5 2176.5,1332.7 2179.5,1332.4 2179.9,1329.6 2184.1,1319.9 2184.5,1288.7 2188.6,1301.1 2189.0,1336.1 2191.4,1311.9 2191.8,1303.1 2194.1,1293.1 2194.5,1334.2 2201.3,1315.0 2202.3,1301.0 2203.1,1306.0 2203.9,1311.0 2205.1,1252.0 2205.8,1246.0 2206.3,1247.0 2207.5,1243.7 2208.0,1246.0 2208.7,1256.0 2209.5,1290.0 2210.4,1296.0 2211.2,1309.0 2212.3,1302.5 2213.3,1315.0 2216.2,1314.2 2216.6,1327.0 2217.8,1319.5 2218.2,1305.0 2221.9,1309.3 2222.3,1337.3 2225.9,1334.9 2226.3,1329.1 2227.8,1324.9 2228.2,1301.3 2232.8,1300.2 2233.2,1334.8 2236.5,1324.0 2236.9,1303.5 2239.7,1297.2 2240.1,1331.1 2242.3,1319.4 2242.7,1285.4 2245.7,1285.5 2246.1,1314.6 2249.0,1292.1 2249.4,1316.3 2253.0,1312.1 2253.4,1338.6 2255.2,1333.2 2255.6,1300.4 2257.4,1328.1 2257.8,1316.7 2259.9,1310.5 2260.3,1301.2 2262.7,1303.6 2263.1,1336.7 2266.1,1336.0 2266.5,1333.0 2271.3,1326.8 2271.7,1313.4 2276.5,1314.5 2276.9,1309.5 2281.2,1315.4 2281.6,1335.6 2286.6,1338.5 2287.0,1296.0 2291.2,1279.5 2291.6,1339.0 2293.9,1339.0 2294.3,1291.5 2297.8,1290.4 2298.2,1331.1 2301.9,1320.7 2302.3,1280.8 2307.0,1286.5 2307.4,1336.5 2312.1,1332.9 2312.5,1295.5 2315.5,1309.4 2315.9,1314.3 2319.5,1319.8"/>
<line x1="1947.7" y1="137.6" x2="1615.0" y2="137.1" stroke="url(#chk)" stroke-width="2.6" shape-rendering="crispEdges"/><polygon points="1570.0,140.0 1614.0,125.6 1614.0,154.6" fill="url(#chk)"/><line x1="1947.7" y1="137.6" x2="1694.6" y2="224.7" stroke="url(#chk)" stroke-width="2.6" shape-rendering="crispEdges"/><polygon points="1652.0,242.0 1688.9,214.0 1698.3,241.4" fill="url(#chk)"/><line x1="1947.7" y1="137.6" x2="1785.1" y2="306.7" stroke="url(#chk)" stroke-width="2.6" shape-rendering="crispEdges"/><polygon points="1753.6,341.4 1773.6,299.6 1794.6,319.7" fill="url(#chk)"/><line x1="1947.7" y1="137.6" x2="1847.6" y2="364.7" stroke="url(#chk)" stroke-width="2.6" shape-rendering="crispEdges"/><polygon points="1828.8,408.0 1833.3,361.9 1859.8,373.6" fill="url(#chk)"/><line x1="1939.7" y1="133.6" x2="1607.0" y2="133.1" stroke="#7030a0" stroke-width="1.2" shape-rendering="crispEdges"/><polygon points="1563.0,133.0 1607.0,118.6 1607.0,147.6" fill="#7030a0"/><line x1="1939.7" y1="133.6" x2="1686.6" y2="220.7" stroke="#7030a0" stroke-width="1.2" shape-rendering="crispEdges"/><polygon points="1645.0,235.0 1681.9,207.0 1691.3,234.4" fill="#7030a0"/><line x1="1939.7" y1="133.6" x2="1777.1" y2="302.7" stroke="#7030a0" stroke-width="1.2" shape-rendering="crispEdges"/><polygon points="1746.6,334.4 1766.6,292.6 1787.6,312.7" fill="#7030a0"/><line x1="1939.7" y1="133.6" x2="1839.6" y2="360.7" stroke="#7030a0" stroke-width="1.2" shape-rendering="crispEdges"/><polygon points="1821.8,401.0 1826.3,354.9 1852.8,366.6" fill="#7030a0"/>
<line x1="1963.7" y1="880.2" x2="1622.6" y2="880.2" stroke="url(#chk)" stroke-width="2.6" shape-rendering="crispEdges"/><polygon points="1577.6,883.2 1621.6,868.7 1621.6,897.7" fill="url(#chk)"/><line x1="1963.7" y1="880.2" x2="1706.7" y2="967.9" stroke="url(#chk)" stroke-width="2.6" shape-rendering="crispEdges"/><polygon points="1664.1,985.1 1701.1,957.2 1710.4,984.6" fill="url(#chk)"/><line x1="1963.7" y1="880.2" x2="1786.4" y2="1054.1" stroke="url(#chk)" stroke-width="2.6" shape-rendering="crispEdges"/><polygon points="1754.0,1087.9 1775.3,1046.7 1795.6,1067.4" fill="url(#chk)"/><line x1="1963.7" y1="880.2" x2="1871.9" y2="1075.8" stroke="url(#chk)" stroke-width="2.6" shape-rendering="crispEdges"/><polygon points="1852.2,1118.6 1857.8,1072.6 1884.0,1084.9" fill="url(#chk)"/><line x1="1963.7" y1="880.2" x2="1934.1" y2="1107.3" stroke="url(#chk)" stroke-width="2.6" shape-rendering="crispEdges"/><polygon points="1927.4,1153.9 1918.7,1108.4 1947.5,1112.1" fill="url(#chk)"/><line x1="1963.7" y1="880.2" x2="2014.7" y2="1147.6" stroke="url(#chk)" stroke-width="2.6" shape-rendering="crispEdges"/><polygon points="2021.9,1193.8 1999.4,1153.3 2027.9,1147.9" fill="url(#chk)"/><line x1="1963.7" y1="880.2" x2="2097.0" y2="1208.9" stroke="url(#chk)" stroke-width="2.6" shape-rendering="crispEdges"/><polygon points="2112.5,1252.7 2082.5,1217.4 2109.4,1206.5" fill="url(#chk)"/><line x1="1963.7" y1="880.2" x2="2178.7" y2="1205.3" stroke="url(#chk)" stroke-width="2.6" shape-rendering="crispEdges"/><polygon points="2202.0,1245.0 2165.6,1216.3 2189.8,1200.3" fill="url(#chk)"/><line x1="1955.7" y1="876.2" x2="1614.6" y2="876.2" stroke="#7030a0" stroke-width="1.2" shape-rendering="crispEdges"/><polygon points="1570.6,876.2 1614.6,861.7 1614.6,890.7" fill="#7030a0"/><line x1="1955.7" y1="876.2" x2="1698.7" y2="963.9" stroke="#7030a0" stroke-width="1.2" shape-rendering="crispEdges"/><polygon points="1657.1,978.1 1694.1,950.2 1703.4,977.6" fill="#7030a0"/><line x1="1955.7" y1="876.2" x2="1778.4" y2="1050.1" stroke="#7030a0" stroke-width="1.2" shape-rendering="crispEdges"/><polygon points="1747.0,1080.9 1768.3,1039.7 1788.6,1060.4" fill="#7030a0"/><line x1="1955.7" y1="876.2" x2="1863.9" y2="1071.8" stroke="#7030a0" stroke-width="1.2" shape-rendering="crispEdges"/><polygon points="1845.2,1111.6 1850.8,1065.6 1877.0,1077.9" fill="#7030a0"/><line x1="1955.7" y1="876.2" x2="1926.1" y2="1103.3" stroke="#7030a0" stroke-width="1.2" shape-rendering="crispEdges"/><polygon points="1920.4,1146.9 1911.7,1101.4 1940.5,1105.1" fill="#7030a0"/><line x1="1955.7" y1="876.2" x2="2006.7" y2="1143.6" stroke="#7030a0" stroke-width="1.2" shape-rendering="crispEdges"/><polygon points="2014.9,1186.8 1992.4,1146.3 2020.9,1140.9" fill="#7030a0"/><line x1="1955.7" y1="876.2" x2="2089.0" y2="1204.9" stroke="#7030a0" stroke-width="1.2" shape-rendering="crispEdges"/><polygon points="2105.5,1245.7 2075.5,1210.4 2102.4,1199.5" fill="#7030a0"/><line x1="1955.7" y1="876.2" x2="2170.7" y2="1201.3" stroke="#7030a0" stroke-width="1.2" shape-rendering="crispEdges"/><polygon points="2195.0,1238.0 2158.6,1209.3 2182.8,1193.3" fill="#7030a0"/>
<g fill="#000">
<text x="208.0" y="648.5" text-anchor="middle" style="font-family:'Liberation Sans',Arial,sans-serif;font-size:45.5px" >0</text>
<text x="208.0" y="1395.5" text-anchor="middle" style="font-family:'Liberation Sans',Arial,sans-serif;font-size:45.5px" >0</text>
<text x="437.5" y="648.5" text-anchor="middle" style="font-family:'Liberation Sans',Arial,sans-serif;font-size:45.5px" >0.5</text>
<text x="437.5" y="1395.5" text-anchor="middle" style="font-family:'Liberation Sans',Arial,sans-serif;font-size:45.5px" >0.5</text>
<text x="668.5" y="648.5" text-anchor="middle" style="font-family:'Liberation Sans',Arial,sans-serif;font-size:45.5px" >1</text>
<text x="668.5" y="1395.5" text-anchor="middle" style="font-family:'Liberation Sans',Arial,sans-serif;font-size:45.5px" >1</text>
<text x="899.5" y="648.5" text-anchor="middle" style="font-family:'Liberation Sans',Arial,sans-serif;font-size:45.5px" >1.5</text>
<text x="899.5" y="1395.5" text-anchor="middle" style="font-family:'Liberation Sans',Arial,sans-serif;font-size:45.5px" >1.5</text>
<text x="1130.5" y="648.5" text-anchor="middle" style="font-family:'Liberation Sans',Arial,sans-serif;font-size:45.5px" >2</text>
<text x="1130.5" y="1395.5" text-anchor="middle" style="font-family:'Liberation Sans',Arial,sans-serif;font-size:45.5px" >2</text>
<text x="1455.1" y="648.5" text-anchor="middle" style="font-family:'Liberation Sans',Arial,sans-serif;font-size:45.5px" >0</text>
<text x="1455.1" y="1395.5" text-anchor="middle" style="font-family:'Liberation Sans',Arial,sans-serif;font-size:45.5px" >0</text>
<text x="1641.9" y="648.5" text-anchor="middle" style="font-family:'Liberation Sans',Arial,sans-serif;font-size:45.5px" >20</text>
<text x="1641.9" y="1395.5" text-anchor="middle" style="font-family:'Liberation Sans',Arial,sans-serif;font-size:45.5px" >20</text>
<text x="1830.0" y="648.5" text-anchor="middle" style="font-family:'Liberation Sans',Arial,sans-serif;font-size:45.5px" >40</text>
<text x="1830.0" y="1395.5" text-anchor="middle" style="font-family:'Liberation Sans',Arial,sans-serif;font-size:45.5px" >40</text>
<text x="2018.2" y="648.5" text-anchor="middle" style="font-family:'Liberation Sans',Arial,sans-serif;font-size:45.5px" >60</text>
<text x="2018.2" y="1395.5" text-anchor="middle" style="font-family:'Liberation Sans',Arial,sans-serif;font-size:45.5px" >60</text>
<text x="2206.6" y="648.5" text-anchor="middle" style="font-family:'Liberation Sans',Arial,sans-serif;font-size:45.5px" >80</text>
<text x="2206.6" y="1395.5" text-anchor="middle" style="font-family:'Liberation Sans',Arial,sans-serif;font-size:45.5px" >80</text>
<text x="2400.2" y="648.5" text-anchor="middle" style="font-family:'Liberation Sans',Arial,sans-serif;font-size:45.5px" >100</text>
<text x="2400.2" y="1395.5" text-anchor="middle" style="font-family:'Liberation Sans',Arial,sans-serif;font-size:45.5px" >100</text>
<text x="193.0" y="81.1" text-anchor="end" style="font-family:'Liberation Sans',Arial,sans-serif;font-size:45.5px" >2</text>
<text x="193.0" y="213.5" text-anchor="end" style="font-family:'Liberation Sans',Arial,sans-serif;font-size:45.5px" >1</text>
<text x="193.0" y="345.9" text-anchor="end" style="font-family:'Liberation Sans',Arial,sans-serif;font-size:45.5px" >0</text>
<text x="193.0" y="478.3" text-anchor="end" style="font-family:'Liberation Sans',Arial,sans-serif;font-size:45.5px" >-1</text>
<text x="193.0" y="610.7" text-anchor="end" style="font-family:'Liberation Sans',Arial,sans-serif;font-size:45.5px" >-2</text>
<text x="193.0" y="831.2" text-anchor="end" style="font-family:'Liberation Sans',Arial,sans-serif;font-size:45.5px" >1</text>
<text x="193.0" y="936.0" text-anchor="end" style="font-family:'Liberation Sans',Arial,sans-serif;font-size:45.5px" >0.5</text>
<text x="193.0" y="1040.8" text-anchor="end" style="font-family:'Liberation Sans',Arial,sans-serif;font-size:45.5px" >0</text>
<text x="193.0" y="1145.6" text-anchor="end" style="font-family:'Liberation Sans',Arial,sans-serif;font-size:45.5px" >-0.5</text>
<text x="193.0" y="1250.4" text-anchor="end" style="font-family:'Liberation Sans',Arial,sans-serif;font-size:45.5px" >-1</text>
<text x="193.0" y="1358.2" text-anchor="end" style="font-family:'Liberation Sans',Arial,sans-serif;font-size:45.5px" >-1.5</text>
<text x="1441.0" y="81.0" text-anchor="end" style="font-family:'Liberation Sans',Arial,sans-serif;font-size:45.5px" >0.01</text>
<text x="1441.0" y="184.9" text-anchor="end" style="font-family:'Liberation Sans',Arial,sans-serif;font-size:45.5px" >0.008</text>
<text x="1441.0" y="289.9" text-anchor="end" style="font-family:'Liberation Sans',Arial,sans-serif;font-size:45.5px" >0.006</text>
<text x="1441.0" y="398.6" text-anchor="end" style="font-family:'Liberation Sans',Arial,sans-serif;font-size:45.5px" >0.004</text>
<text x="1441.0" y="502.9" text-anchor="end" style="font-family:'Liberation Sans',Arial,sans-serif;font-size:45.5px" >0.002</text>
<text x="1441.0" y="611.2" text-anchor="end" style="font-family:'Liberation Sans',Arial,sans-serif;font-size:45.5px" >0</text>
<text x="1441.0" y="831.0" text-anchor="end" style="font-family:'Liberation Sans',Arial,sans-serif;font-size:45.5px" >8</text>
<text x="1441.0" y="959.8" text-anchor="end" style="font-family:'Liberation Sans',Arial,sans-serif;font-size:45.5px" >6</text>
<text x="1441.0" y="1092.5" text-anchor="end" style="font-family:'Liberation Sans',Arial,sans-serif;font-size:45.5px" >4</text>
<text x="1441.0" y="1225.3" text-anchor="end" style="font-family:'Liberation Sans',Arial,sans-serif;font-size:45.5px" >2</text>
<text x="1441.0" y="1358.0" text-anchor="end" style="font-family:'Liberation Sans',Arial,sans-serif;font-size:45.5px" >0</text>
<text x="1453" y="791.7" style="font-family:'Liberation Sans',Arial,sans-serif;font-size:47px">x 10</text>
<text x="1540" y="761.9" style="font-family:'Liberation Sans',Arial,sans-serif;font-size:32.5px">-3</text>
</g>
<g fill="#000">
<text x="668.0" y="723.0" text-anchor="middle" style="font-family:'Liberation Serif','Times New Roman',serif;font-size:52.7px" >Time(s)</text>
<text x="668.0" y="1499.0" text-anchor="middle" style="font-family:'Liberation Serif','Times New Roman',serif;font-size:52.7px" >Time(s)</text>
<text x="1917.5" y="717.7" text-anchor="middle" style="font-family:'Liberation Serif','Times New Roman',serif;font-size:52.7px" >Frequency(Hz)</text>
<text x="1930.0" y="1493.6" text-anchor="middle" style="font-family:'Liberation Serif','Times New Roman',serif;font-size:52.7px" >Frequency(Hz)</text>
<text x="0" y="0" text-anchor="middle" transform="translate(85.5,339.5) rotate(-90)" style="font-family:'Liberation Serif','Times New Roman',serif;font-size:52.1px">Amplitude(g)</text>
<text x="0" y="0" text-anchor="middle" transform="translate(85.5,1044) rotate(-90)" style="font-family:'Liberation Serif','Times New Roman',serif;font-size:52.1px">Amplitude(g)</text>
<text x="0" y="0" text-anchor="middle" transform="translate(1269,302.2) rotate(-90)" style="font-family:'Liberation Serif','Times New Roman',serif;font-size:52.1px">Amplitude(g)</text>
<text x="0" y="0" text-anchor="middle" transform="translate(1269,1064.75) rotate(-90)" style="font-family:'Liberation Serif','Times New Roman',serif;font-size:52.1px">Amplitude(g)</text>
<text x="83.0" y="82.5" text-anchor="start" style="font-family:'Liberation Serif','Times New Roman',serif;font-size:52.7px" >(a)</text>
<text x="1281.0" y="82.5" text-anchor="start" style="font-family:'Liberation Serif','Times New Roman',serif;font-size:52.7px" >(b)</text>
<text x="83.0" y="824.9" text-anchor="start" style="font-family:'Liberation Serif','Times New Roman',serif;font-size:52.7px" >(c)</text>
<text x="1281.0" y="824.5" text-anchor="start" style="font-family:'Liberation Serif','Times New Roman',serif;font-size:52.7px" >(d)</text>
</g>
</svg>
</body></html>
